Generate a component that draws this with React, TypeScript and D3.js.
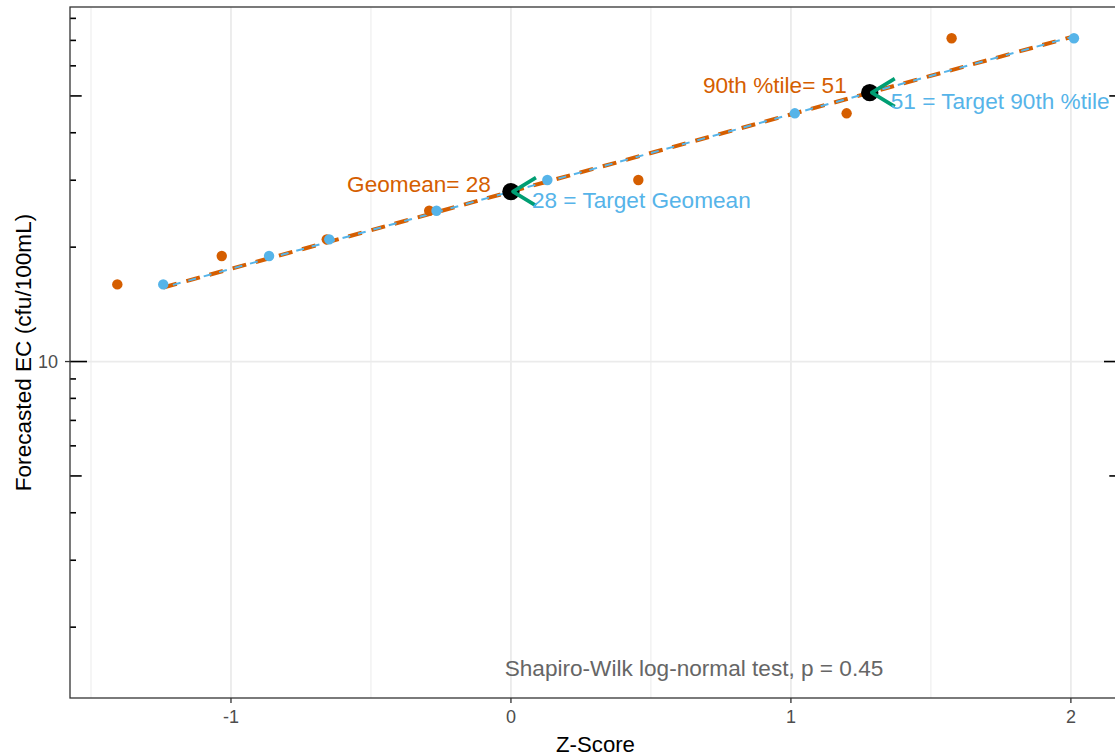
import React from "react";
import * as d3 from "d3";

// Theoretical (observed) z-scores, target-fit z-scores, and the EC values shared by both
const observedZ = [-1.406, -1.033, -0.658, -0.292, 0.455, 1.199, 1.574];
const targetZ = [-1.242, -0.864, -0.649, -0.266, 0.13, 1.014, 2.011];
const ecValues = [15.96, 18.95, 20.97, 24.94, 30.04, 45.0, 70.9];

// Summary statistics
const geomeanZ = 0;
const geomeanValue = 28;
const p90Z = 1.2816;
const p90Value = 51;
const shapiroP = 0.45;

// Axis limits and ticks
const xLimits = [-1.575, 2.179];
const yLimits = [1.302, 85.7];
const xMajorTicks = [-1, 0, 1, 2];
const xMinorTicks = [-1.5, -0.5, 0.5, 1.5];
const yMajorTicks = [10];
const logMultipliers = [1, 2, 3, 4, 5, 6, 7, 8, 9];
const logDecades = [1, 10];

const W = 1115;
const H = 756;
const panel = { left: 70, right: 1121, top: 7, bottom: 698 };

const FONT = "'Liberation Sans', Arial, Helvetica, sans-serif";
const ORANGE = "#D55E00";
const BLUE = "#56B4E9";
const GREEN = "#009E73";

export default function App() {
  const x = d3.scaleLinear().domain(xLimits).range([panel.left, panel.right]);
  const y = d3.scaleLog().domain(yLimits).range([panel.bottom, panel.top]);

  // Log-normal target line through the geomean and the 90th percentile
  const slope = (Math.log10(p90Value) - Math.log10(geomeanValue)) / (p90Z - geomeanZ);
  const fitAt = (z: number) => Math.pow(10, Math.log10(geomeanValue) + slope * (z - geomeanZ));
  const zExtent = d3.extent(targetZ) as [number, number];
  const fitLine = d3
    .line<number>()
    .x((z) => x(z))
    .y((z) => y(fitAt(z)));
  const fitPath = fitLine([zExtent[0], zExtent[1]]) || "";

  // Logtick annotations (long at decades, medium at fives, short otherwise)
  const logTicks: { v: number; len: number }[] = [];
  logDecades.forEach((d) =>
    logMultipliers.forEach((m) => {
      const v = m * d;
      if (v >= yLimits[0] && v <= yLimits[1]) {
        logTicks.push({ v, len: m === 1 ? 17 : m === 5 ? 11.7 : 6 });
      }
    })
  );

  const gx = x(geomeanZ);
  const gy = y(geomeanValue);
  const px = x(p90Z);
  const py = y(p90Value);

  const arrow = (cx: number, cy: number) =>
    `M${cx + 25},${cy - 14} L${cx + 2},${cy} L${cx + 25},${cy + 14}`;

  return (
    <svg
      width={W}
      height={H}
      style={{ position: "absolute", left: 0, top: 0, background: "#fff" }}
      fontFamily={FONT}
    >
      <defs>
        <clipPath id="panel-clip">
          <rect
            x={panel.left}
            y={panel.top}
            width={panel.right - panel.left}
            height={panel.bottom - panel.top}
          />
        </clipPath>
      </defs>
      <rect x={0} y={0} width={W} height={H} fill="#fff" />

      {/* grid */}
      <g>
        {xMinorTicks.map((t) => (
          <line key={"xm" + t} x1={x(t)} x2={x(t)} y1={panel.top} y2={panel.bottom} stroke="#EBEBEB" strokeWidth={1} />
        ))}
        {xMajorTicks.map((t) => (
          <line key={"xM" + t} x1={x(t)} x2={x(t)} y1={panel.top} y2={panel.bottom} stroke="#EBEBEB" strokeWidth={1.8} />
        ))}
        {yMajorTicks.map((t) => (
          <line key={"yM" + t} x1={panel.left} x2={panel.right} y1={y(t)} y2={y(t)} stroke="#EBEBEB" strokeWidth={1.8} />
        ))}
      </g>

      <g clipPath="url(#panel-clip)">
        {/* fitted lines */}
        <path d={fitPath} fill="none" stroke={ORANGE} strokeWidth={4} strokeDasharray="14 10" />
        <path d={fitPath} fill="none" stroke={BLUE} strokeWidth={2} strokeDasharray="8 8" strokeDashoffset={-10} />

        {/* observed points */}
        {observedZ.map((z, i) => (
          <circle key={"o" + i} cx={x(z)} cy={y(ecValues[i])} r={5.2} fill={ORANGE} />
        ))}
        {/* target points */}
        {targetZ.map((z, i) => (
          <circle key={"b" + i} cx={x(z)} cy={y(ecValues[i])} r={5.2} fill={BLUE} />
        ))}

        {/* summary points */}
        <circle cx={gx} cy={gy} r={8.7} fill="#000" />
        <circle cx={px} cy={py} r={8.7} fill="#000" />
        <path d={arrow(gx, gy)} fill="none" stroke={GREEN} strokeWidth={3.6} strokeLinejoin="round" />
        <path d={arrow(px, py)} fill="none" stroke={GREEN} strokeWidth={3.6} strokeLinejoin="round" />

        {/* labels */}
        <text x={gx - 20} y={gy} textAnchor="end" fontSize={22.6} fill={ORANGE}>
          {`Geomean= ${geomeanValue}`}
        </text>
        <text x={gx + 21} y={gy + 16.7} textAnchor="start" fontSize={22.6} fill={BLUE}>
          {`${geomeanValue} = Target Geomean`}
        </text>
        <text x={px - 23} y={py} textAnchor="end" fontSize={22.6} fill={ORANGE}>
          {`90th %tile= ${p90Value}`}
        </text>
        <text x={px + 21} y={py + 16.7} textAnchor="start" fontSize={22.6} fill={BLUE}>
          {`${p90Value} = Target 90th %tile`}
        </text>
        <text x={694} y={676} textAnchor="middle" fontSize={22.6} fill="#666666">
          {`Shapiro-Wilk log-normal test, p = ${shapiroP}`}
        </text>
      </g>

      {/* log ticks on both sides */}
      <g stroke="#000" strokeWidth={1.6}>
        {logTicks.map((t) => (
          <line key={"ll" + t.v} x1={panel.left} x2={panel.left + t.len} y1={y(t.v)} y2={y(t.v)} />
        ))}
        {logTicks.map((t) => (
          <line key={"lr" + t.v} x1={panel.right} x2={panel.right - t.len} y1={y(t.v)} y2={y(t.v)} />
        ))}
      </g>

      {/* panel border */}
      <rect
        x={panel.left}
        y={panel.top}
        width={panel.right - panel.left}
        height={panel.bottom - panel.top}
        fill="none"
        stroke="#333333"
        strokeWidth={1.3}
      />

      {/* x axis */}
      <g>
        {xMajorTicks.map((t) => (
          <g key={"xt" + t}>
            <line x1={x(t)} x2={x(t)} y1={panel.bottom} y2={panel.bottom + 5} stroke="#333333" strokeWidth={1.3} />
            <text x={x(t)} y={722.5} textAnchor="middle" fontSize={18} fill="#4D4D4D">
              {String(t)}
            </text>
          </g>
        ))}
        <text x={(panel.left + panel.right) / 2} y={752} textAnchor="middle" fontSize={22.2} fill="#000">
          Z-Score
        </text>
      </g>

      {/* y axis */}
      <g>
        {yMajorTicks.map((t) => (
          <g key={"yt" + t}>
            <line x1={panel.left - 5} x2={panel.left} y1={y(t)} y2={y(t)} stroke="#333333" strokeWidth={1.3} />
            <text x={58} y={y(t) + 6.4} textAnchor="end" fontSize={18} fill="#4D4D4D">
              {String(t)}
            </text>
          </g>
        ))}
        <text
          transform={`translate(31,${(panel.top + panel.bottom) / 2}) rotate(-90)`}
          textAnchor="middle"
          fontSize={22.6}
          fill="#000"
        >
          Forecasted EC (cfu/100mL)
        </text>
      </g>
    </svg>
  );
}
